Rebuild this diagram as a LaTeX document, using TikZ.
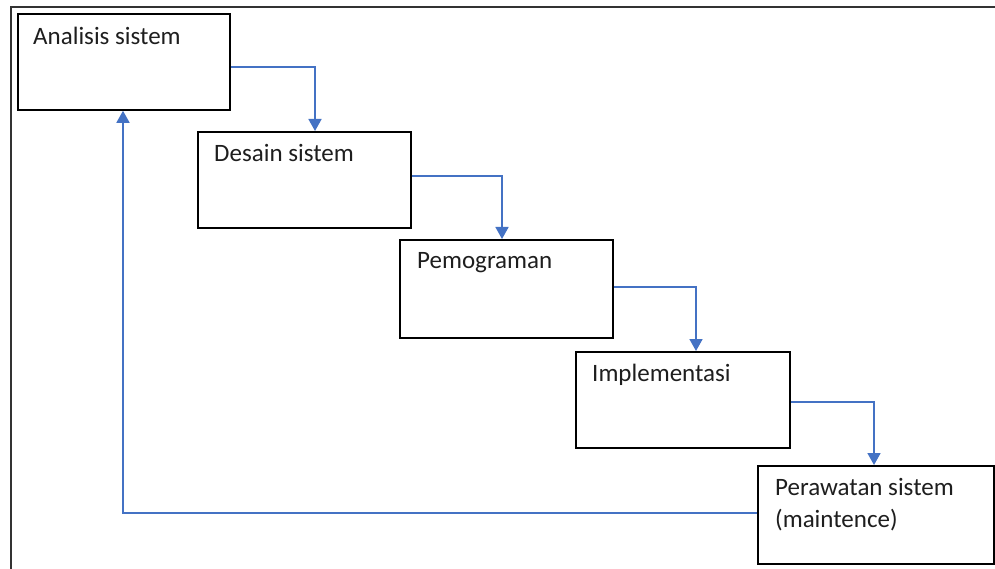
\documentclass[tikz,border=0pt]{standalone}
\usepackage{fontspec}
\setmainfont{Carlito}
\usetikzlibrary{arrows.meta,calc}
\definecolor{flowblue}{RGB}{68,114,196}
\definecolor{txt}{RGB}{30,30,30}
\begin{document}
\begin{tikzpicture}[x=1pt,y=-1pt,
  stage/.style={draw=black,line width=1.8pt,fill=white,minimum width=#1,minimum height=96pt,inner sep=0pt,anchor=north west},
  stage/.default=212pt,
  lbl/.style={anchor=base west,inner sep=0pt,text=txt,font=\fontsize{25}{32}\selectfont,align=left},
  flow/.style={draw=flowblue,line width=1.7pt,-{Triangle[width=13pt,length=12pt]}},
  frame/.style={draw=black!80,line width=2.4pt}]
\useasboundingbox (0,0) rectangle (995,569);
\fill[white] (0,0) rectangle (995,569);
\coordinate (fl) at (11,569);
\coordinate (ftl) at (11,7);
\coordinate (ftr) at (995,7);
\draw[frame] (fl) -- (ftl) -- (ftr);
\node[stage] (A) at (17,13) {};
\node[stage=213pt] (B) at (197,131) {};
\node[stage=213pt,minimum height=98pt] (C) at (399,239) {};
\node[stage=214pt] (D) at (575,351) {};
\node[stage=236pt,minimum height=98pt] (E) at (757,465) {};
\node[lbl] (tA) at ($(A.north west)+(16,32)$) {Analisis sistem};
\node[lbl] (tB) at ($(B.north west)+(17,31)$) {Desain sistem};
\node[lbl] (tC) at ($(C.north west)+(18,30)$) {Pemograman};
\node[lbl] (tD) at ($(D.north west)+(17,30)$) {Implementasi};
\node[lbl,anchor=north west] (tE) at ($(E.north west)+(18,13)$) {Perawatan sistem\\(maintence)};
\draw[flow] ([yshift=-54pt]A.north east) -| ([xshift=118pt]B.north west);
\draw[flow] ([yshift=-45pt]B.north east) -| ([xshift=103pt]C.north west);
\draw[flow] ([yshift=-48pt]C.north east) -| ([xshift=121pt]D.north west);
\draw[flow] ([yshift=-51pt]D.north east) -| ([xshift=117pt]E.north west);
\draw[flow] ([yshift=-48pt]E.north west) -| ([xshift=106pt]A.south west);
\end{tikzpicture}
\end{document}
